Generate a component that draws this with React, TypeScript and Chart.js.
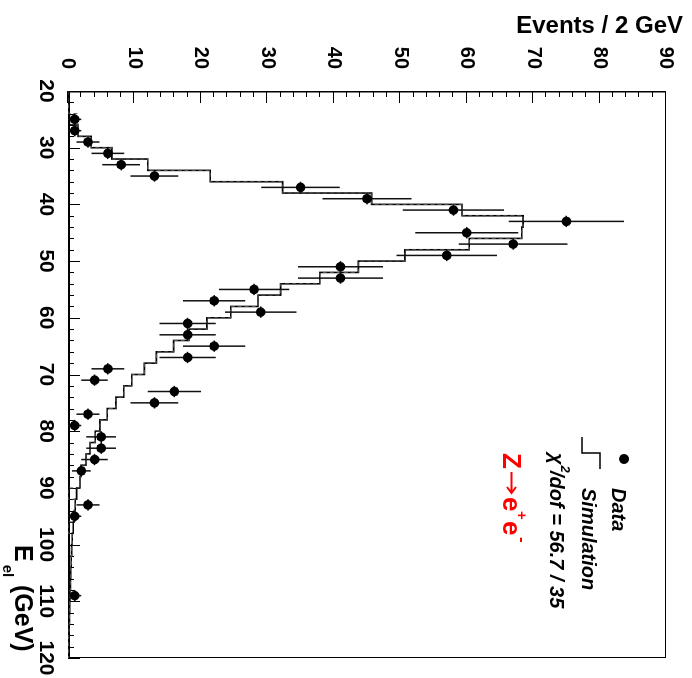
import React, { useEffect, useRef } from "react";
import { Chart, registerables } from "chart.js";

Chart.register(...registerables);

const FONT = '"Liberation Sans", Arial, Helvetica, sans-serif';

// Simulated electron-energy spectrum: 2 GeV bins (low edges) and expected events
const simBinLow = [
  20, 22, 24, 26, 28, 30, 32, 34, 36, 38,
  40, 42, 44, 46, 48, 50, 52, 54, 56, 58,
  60, 62, 64, 66, 68, 70, 72, 74, 76, 78,
  80, 82, 84, 86, 88, 90, 92, 94, 96, 98,
  100, 102, 104, 106, 108, 110, 112, 114, 116, 118,
];
const simCounts = [
  0, 0.1, 0.2, 1.5, 3.5, 6.6, 12.0, 21.4, 32.3, 45.7,
  59.3, 68.5, 68.3, 60.4, 50.7, 43.7, 37.9, 32.0, 28.6, 24.5,
  20.9, 18.2, 15.9, 13.3, 11.5, 9.6, 8.4, 7.2, 5.9, 4.8,
  4.1, 3.3, 2.7, 1.95, 1.8, 1.3, 1.1, 0.95, 0.8, 0.65,
  0.55, 0.5, 0.4, 0.35, 0.3, 0.25, 0.2, 0.15, 0.1, 0.1,
];
// Second simulation sample (dashed), identical binning
const simCountsAlt = [
  0, 0.1, 1.5, 1.5, 3.5, 6.6, 12.0, 21.4, 32.3, 45.7,
  59.3, 68.5, 68.3, 60.4, 50.7, 43.7, 37.9, 32.0, 28.6, 24.5,
  20.9, 18.2, 15.9, 13.3, 11.5, 9.6, 8.4, 7.2, 5.9, 4.8,
  4.1, 3.3, 2.7, 1.95, 1.8, 0, 1.1, 0.95, 0, 0.65,
  0.55, 0.5, 0.4, 0.35, 0.3, 0.25, 0.2, 0.15, 0.1, 0.1,
];
const simBinWidth = 2;

// Measured events per bin (bin centres in GeV)
const dataEnergy = [
  25, 27, 29, 31, 33, 35, 37, 39, 41, 43,
  45, 47, 49, 51, 53, 55, 57, 59, 61, 63,
  65, 67, 69, 71, 73, 75, 77, 79, 81, 83,
  85, 87, 93, 95, 109,
];
const dataCounts = [
  1, 1, 3, 6, 8, 13, 35, 45, 58, 75,
  60, 67, 57, 41, 41, 28, 22, 29, 18, 18,
  22, 18, 6, 4, 16, 13, 3, 1, 5, 5,
  4, 2, 3, 1, 1,
];

const energyRange = [20, 120];
const eventRange = [0, 90];
const labelStep = 10;
const minorStep = 2;

const yTitle = "Events / 2 GeV";
const legendData = "Data";
const legendSim = "Simulation";
const chi2Text = "/dof = 56.7 / 35";

function stepPoints(low: number[], counts: number[], width: number) {
  const pts: { x: number; y: number }[] = [];
  low.forEach((lo, i) => {
    pts.push({ x: lo, y: counts[i] });
    pts.push({ x: lo + width, y: counts[i] });
  });
  return pts;
}

const frameAndTicks = {
  id: "frameAndTicks",
  beforeDatasetsDraw(chart: any) {
    const { ctx, chartArea: a, scales } = chart;
    const xs = scales.x;
    const ys = scales.y;
    ctx.save();
    ctx.strokeStyle = "#000";
    // frame
    ctx.lineWidth = 1;
    ctx.strokeRect(a.left + 0.5, a.top + 0.5, a.right - a.left - 1, a.bottom - a.top - 1);
    ctx.lineWidth = 2;
    ctx.beginPath();
    ctx.moveTo(a.left, a.bottom - 1);
    ctx.lineTo(a.right, a.bottom - 1);
    ctx.stroke();
    ctx.lineWidth = 1.5;
    ctx.beginPath();
    ctx.moveTo(a.left + 0.75, a.top);
    ctx.lineTo(a.left + 0.75, a.bottom);
    ctx.stroke();
    // energy axis ticks (inside)
    ctx.lineWidth = 1;
    ctx.beginPath();
    for (let e = energyRange[0]; e <= energyRange[1]; e += minorStep) {
      const px = Math.round(xs.getPixelForValue(e)) + 0.5;
      const len = e % labelStep === 0 ? 12 : 6;
      ctx.moveTo(px, a.bottom);
      ctx.lineTo(px, a.bottom - len);
    }
    // events axis ticks (inside)
    for (let n = eventRange[0]; n <= eventRange[1]; n += minorStep) {
      const py = Math.round(ys.getPixelForValue(n)) + 0.5;
      const len = n % labelStep === 0 ? 12 : 6;
      ctx.moveTo(a.left, py);
      ctx.lineTo(a.left + len, py);
    }
    ctx.stroke();
    ctx.restore();
  },
};

const errorBars = {
  id: "errorBars",
  beforeDatasetDraw(chart: any, args: any) {
    if (args.index !== 0) return;
    const { ctx, scales } = chart;
    const xs = scales.x;
    const ys = scales.y;
    ctx.save();
    ctx.strokeStyle = "#111";
    ctx.lineWidth = 1.5;
    ctx.beginPath();
    dataEnergy.forEach((e, i) => {
      const n = dataCounts[i];
      const err = Math.sqrt(n);
      const px = xs.getPixelForValue(e);
      const py = ys.getPixelForValue(n);
      ctx.moveTo(px, ys.getPixelForValue(n - err));
      ctx.lineTo(px, ys.getPixelForValue(n + err));
      ctx.moveTo(xs.getPixelForValue(e - simBinWidth / 2), py);
      ctx.lineTo(xs.getPixelForValue(e + simBinWidth / 2), py);
    });
    ctx.stroke();
    ctx.restore();
  },
};

const annotations = {
  id: "annotations",
  afterDraw(chart: any) {
    const ctx = chart.ctx;
    ctx.save();
    ctx.fillStyle = "#000";
    ctx.textBaseline = "alphabetic";

    // vertical axis title, reading upwards
    ctx.save();
    ctx.translate(33, 9);
    ctx.rotate(-Math.PI / 2);
    ctx.font = `bold 24px ${FONT}`;
    ctx.textAlign = "right";
    ctx.fillText(yTitle, 0, 0);
    ctx.restore();

    // horizontal axis title: E_el (GeV)
    ctx.textAlign = "left";
    ctx.font = `bold 25px ${FONT}`;
    ctx.fillText("E", 545, 677);
    const wE = ctx.measureText("E").width;
    ctx.font = `bold 15px ${FONT}`;
    ctx.fillText("el", 545 + wE + 3, 689);
    ctx.font = `bold 25px ${FONT}`;
    ctx.fillText("(GeV)", 585, 677);

    // legend
    ctx.beginPath();
    ctx.arc(459, 68, 5, 0, Math.PI * 2);
    ctx.fill();
    ctx.font = `italic bold 20px ${FONT}`;
    ctx.fillText(legendData, 488, 80);

    ctx.strokeStyle = "#000";
    ctx.lineWidth = 1.5;
    ctx.beginPath();
    ctx.moveTo(437, 110);
    ctx.lineTo(453, 110);
    ctx.lineTo(453, 92);
    ctx.lineTo(469, 92);
    ctx.stroke();
    ctx.fillText(legendSim, 488, 110);

    ctx.font = `italic bold 20px ${FONT}`;
    ctx.fillText("\u03C7", 453, 142);
    const wChi = ctx.measureText("\u03C7").width;
    ctx.font = `italic bold 13px ${FONT}`;
    ctx.fillText("2", 453 + wChi + 1, 131);
    ctx.font = `italic bold 20px ${FONT}`;
    ctx.fillText(chi2Text, 471, 142);

    // process label: Z -> e+ e-
    ctx.fillStyle = "#ff0000";
    ctx.strokeStyle = "#ff0000";
    ctx.font = `bold 26px ${FONT}`;
    ctx.fillText("Z", 453, 189);
    // arrow
    ctx.lineWidth = 2;
    ctx.beginPath();
    ctx.moveTo(472, 180.5);
    ctx.lineTo(493, 180.5);
    ctx.moveTo(487, 176);
    ctx.lineTo(493, 180.5);
    ctx.lineTo(487, 185);
    ctx.stroke();
    ctx.fillText("e", 497, 189);
    ctx.font = `bold 15px ${FONT}`;
    ctx.fillText("+", 511, 175);
    ctx.font = `bold 26px ${FONT}`;
    ctx.fillText("e", 521, 189);
    ctx.font = `bold 17px ${FONT}`;
    ctx.fillText("-", 537, 175);
    ctx.restore();
  },
};

export default function App() {
  const ref = useRef<HTMLCanvasElement>(null);

  useEffect(() => {
    const canvas = ref.current;
    if (!canvas) return;
    const chart = new Chart(canvas, {
      type: "scatter",
      data: {
        datasets: [
          {
            type: "scatter",
            label: legendData,
            data: dataEnergy.map((e, i) => ({ x: e, y: dataCounts[i] })),
            pointRadius: 4.8,
            pointBackgroundColor: "#000",
            pointBorderWidth: 0,
            pointBorderColor: "#000",
          },
          {
            type: "line",
            label: legendSim + " (alt)",
            data: stepPoints(simBinLow, simCountsAlt, simBinWidth),
            borderColor: "#555",
            borderWidth: 1,
            borderDash: [4, 3],
            pointRadius: 0,
            tension: 0,
            fill: false,
          },
          {
            type: "line",
            label: legendSim,
            data: stepPoints(simBinLow, simCounts, simBinWidth),
            borderColor: "#000",
            borderWidth: 1.6,
            pointRadius: 0,
            tension: 0,
            fill: false,
          },
        ],
      },
      options: {
        animation: false,
        responsive: false,
        devicePixelRatio: 1,
        layout: { padding: { left: 0, right: 20, top: 19, bottom: 0 } },
        plugins: {
          legend: { display: false },
          tooltip: { enabled: false },
        },
        scales: {
          x: {
            type: "linear",
            position: "bottom",
            min: energyRange[0],
            max: energyRange[1],
            grid: { display: false },
            border: { display: false },
            ticks: {
              stepSize: labelStep,
              autoSkip: false,
              maxRotation: 0,
              minRotation: 0,
              padding: 2,
              color: "#000",
              font: { family: FONT, size: 21, weight: "bold" },
            },
            afterFit(scale: any) {
              scale.height = 68;
            },
          },
          y: {
            type: "linear",
            position: "left",
            min: eventRange[0],
            max: eventRange[1],
            grid: { display: false },
            border: { display: false },
            ticks: {
              stepSize: labelStep,
              autoSkip: false,
              padding: 14,
              color: "#000",
              font: { family: FONT, size: 20, weight: "bold" },
            },
            afterFit(scale: any) {
              scale.width = 91;
            },
          },
        },
      },
      plugins: [frameAndTicks, errorBars, annotations],
    } as any);
    return () => chart.destroy();
  }, []);

  return (
    <div
      style={{
        position: "fixed",
        left: 0,
        top: 0,
        width: 692,
        height: 678,
        overflow: "hidden",
        background: "#fff",
      }}
    >
      <div
        style={{
          position: "absolute",
          left: 0,
          top: 0,
          width: 678,
          height: 692,
          transformOrigin: "0 0",
          transform: "translate(692px, 0) rotate(90deg)",
        }}
      >
        <canvas ref={ref} width={678} height={692} style={{ display: "block" }} />
      </div>
    </div>
  );
}
